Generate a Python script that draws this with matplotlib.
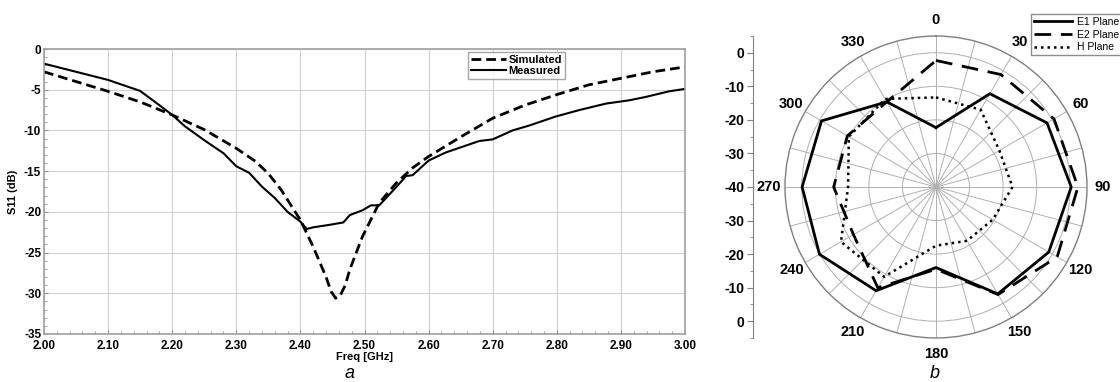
import numpy as np
import matplotlib
matplotlib.use('Agg')
import matplotlib.pyplot as plt
from matplotlib.ticker import MultipleLocator

plt.rcParams['font.family'] = ['Liberation Sans', 'DejaVu Sans']
plt.rcParams['axes.unicode_minus'] = False

# S11 data
freq_sim = [2.00, 2.05, 2.10, 2.15, 2.20, 2.25, 2.30, 2.33, 2.35, 2.37, 2.40, 2.42, 2.44,
            2.448, 2.455, 2.462, 2.470, 2.477, 2.497, 2.523, 2.549, 2.575, 2.60, 2.65, 2.70,
            2.75, 2.80, 2.85, 2.90, 2.95, 3.00]
s11_sim = [-2.8, -4.0, -5.2, -6.5, -8.1, -9.9, -12.2, -13.8, -15.3, -17.3, -21.0, -24.3, -28.0,
           -29.8, -30.6, -30.3, -29.0, -27.1, -23.0, -18.9, -16.5, -14.6, -13.2, -10.8, -8.5,
           -6.9, -5.6, -4.4, -3.6, -2.8, -2.2]

freq_meas = [2.00, 2.05, 2.10, 2.15, 2.18, 2.20, 2.22, 2.25, 2.28, 2.30, 2.32, 2.34, 2.36, 2.38,
             2.40, 2.41, 2.42, 2.445, 2.467, 2.477, 2.497, 2.51, 2.523, 2.549, 2.565, 2.575,
             2.60, 2.627, 2.653, 2.679, 2.70, 2.731, 2.757, 2.798, 2.835, 2.877, 2.913, 2.938,
             2.975, 3.00]
s11_meas = [-1.8, -2.8, -3.8, -5.15, -6.9, -8.1, -9.5, -11.2, -12.8, -14.4, -15.2, -16.9, -18.3,
            -20.0, -21.2, -22.1, -21.9, -21.6, -21.3, -20.4, -19.8, -19.2, -19.2, -17.0, -15.6,
            -15.5, -13.7, -12.7, -12.0, -11.3, -11.1, -10.0, -9.4, -8.3, -7.5, -6.7, -6.3, -5.9,
            -5.2, -4.9]

# radiation pattern (dB), every 30 deg starting at 0
angles_deg = [0, 30, 60, 90, 120, 150, 180, 210, 240, 270, 300, 330]
e1_plane = [-22.3, -7.9, -1.8, 0.3, -1.2, -3.2, -16.0, -4.3, 0.1, -0.1, -0.6, -10.7]
e2_plane = [-2.3, -1.3, 0.6, 2.3, 1.7, -3.0, -15.5, -5.3, -11.6, -9.5, -9.5, -10.7]
h_plane = [-13.3, -13.4, -18.2, -17.2, -20.5, -21.5, -22.5, -9.1, -7.3, -13.8, -10.0, -9.7]
angle_labels = ['0', '30', '60', '90', '120', '150', '180', '210', '240', '270', '300', '330']
radial_tick_labels = ['0', '-10', '-20', '-30', '-40', '-30', '-20', '-10', '0']

W, H = 1120, 382
fig = plt.figure(figsize=(W / 100, H / 100), dpi=100)

# ---- left: S11 ----
ax = fig.add_axes([44 / W, 1 - 334 / H, (685 - 44) / W, (334 - 49) / H])
ax.plot(freq_sim, s11_sim, color='black', lw=2.0, ls=(0, (3.5, 1.8)), label='Simulated')
ax.plot(freq_meas, s11_meas, color='black', lw=1.5, label='Measured')
ax.set_xlim(2.0, 3.0)
ax.set_ylim(-35, 0)
ax.xaxis.set_major_locator(MultipleLocator(0.1))
ax.xaxis.set_minor_locator(MultipleLocator(0.02))
ax.yaxis.set_major_locator(MultipleLocator(5))
ax.yaxis.set_minor_locator(MultipleLocator(1))
ax.xaxis.set_major_formatter(plt.FuncFormatter(lambda v, p: '%.2f' % v))
ax.grid(True, which='major', color='#d0d0d0', lw=0.8)
ax.tick_params(which='both', direction='in', color='#909090', labelsize=8.5, pad=2)
ax.tick_params(axis='x', pad=4)
ax.tick_params(which='major', length=3)
ax.tick_params(which='minor', length=2)
for lab in ax.get_xticklabels() + ax.get_yticklabels():
    lab.set_fontweight('bold')
for s in ax.spines.values():
    s.set_color('#a0a0a0')
    s.set_linewidth(1.2)
ax.set_xlabel('Freq [GHz]', fontsize=8, fontweight='bold', labelpad=0)
ax.set_ylabel('S11 (dB)', fontsize=8, fontweight='bold', labelpad=4)
leg = ax.legend(loc='upper left', bbox_to_anchor=((468 - 44) / 641, 1 - 3 / 285),
                fontsize=8, prop={'weight': 'bold', 'size': 8}, handlelength=3.2,
                handletextpad=0.2, borderpad=0.25, labelspacing=0.1, fancybox=False,
                borderaxespad=0)
leg.get_frame().set_edgecolor('#909090')
leg.get_frame().set_linewidth(1.0)
fig.text(350 / W, 1 - 373 / H, 'a', fontsize=13, style='italic', ha='center', va='center')

# ---- right: radiation pattern ----
cx, cy, rad = 936, 187, 151
pax = fig.add_axes([(cx - rad) / W, 1 - (cy + rad) / H, 2 * rad / W, 2 * rad / H],
                   projection='polar')
pax.set_theta_zero_location('N')
pax.set_theta_direction(-1)
pax.set_rlim(-40, 5)
th = np.deg2rad(angles_deg + [angles_deg[0]])
pax.plot(th, e1_plane + [e1_plane[0]], color='black', lw=2.0, label='E1 Plane')
pax.plot(th, e2_plane + [e2_plane[0]], color='black', lw=2.0, ls=(0, (6, 3.5)), label='E2 Plane')
pax.plot(th, h_plane + [h_plane[0]], color='black', lw=1.8, ls=(0, (1, 1.6)), label='H Plane')
pax.set_xticks(np.deg2rad(np.arange(0, 360, 15)))
pax.set_xticklabels([angle_labels[i // 2] if i % 2 == 0 else '' for i in range(24)],
                    fontsize=10.5, fontweight='bold')
pax.tick_params(axis='x', pad=1)
pax.set_yticks([-30, -20, -10, 0])
pax.set_yticklabels([])
pax.grid(True, color='#b0b0b0', lw=0.7)
pax.spines['polar'].set_color('#808080')
pax.spines['polar'].set_linewidth(1.0)
pleg = pax.legend(loc='upper left', bbox_to_anchor=(1031 / W, 1 - 14 / H),
                  bbox_transform=fig.transFigure, fontsize=7.5, handlelength=3.6,
                  handletextpad=0.5, borderpad=0.3, labelspacing=0.25, fancybox=False,
                  borderaxespad=0)
pleg.get_frame().set_edgecolor('#707070')
pleg.get_frame().set_linewidth(1.0)

# radial scale drawn as a separate vertical axis
rax = fig.add_axes([753 / W, 1 - (cy + rad) / H, 0.001, 2 * rad / H])
rax.set_ylim(-45, 45)
rax.set_yticks([40, 30, 20, 10, 0, -10, -20, -30, -40])
rax.set_yticklabels(radial_tick_labels, fontsize=10, fontweight='bold')
rax.yaxis.set_minor_locator(MultipleLocator(5))
rax.set_xticks([])
rax.tick_params(axis='y', which='both', color='#808080', pad=2)
rax.tick_params(axis='y', which='major', length=4)
rax.tick_params(axis='y', which='minor', length=2)
for k in ['top', 'right', 'bottom']:
    rax.spines[k].set_visible(False)
rax.spines['left'].set_color('#808080')
rax.patch.set_visible(False)
fig.text(935 / W, 1 - 373 / H, 'b', fontsize=13, style='italic', ha='center', va='center')

fig.savefig('out.png', dpi=100)
